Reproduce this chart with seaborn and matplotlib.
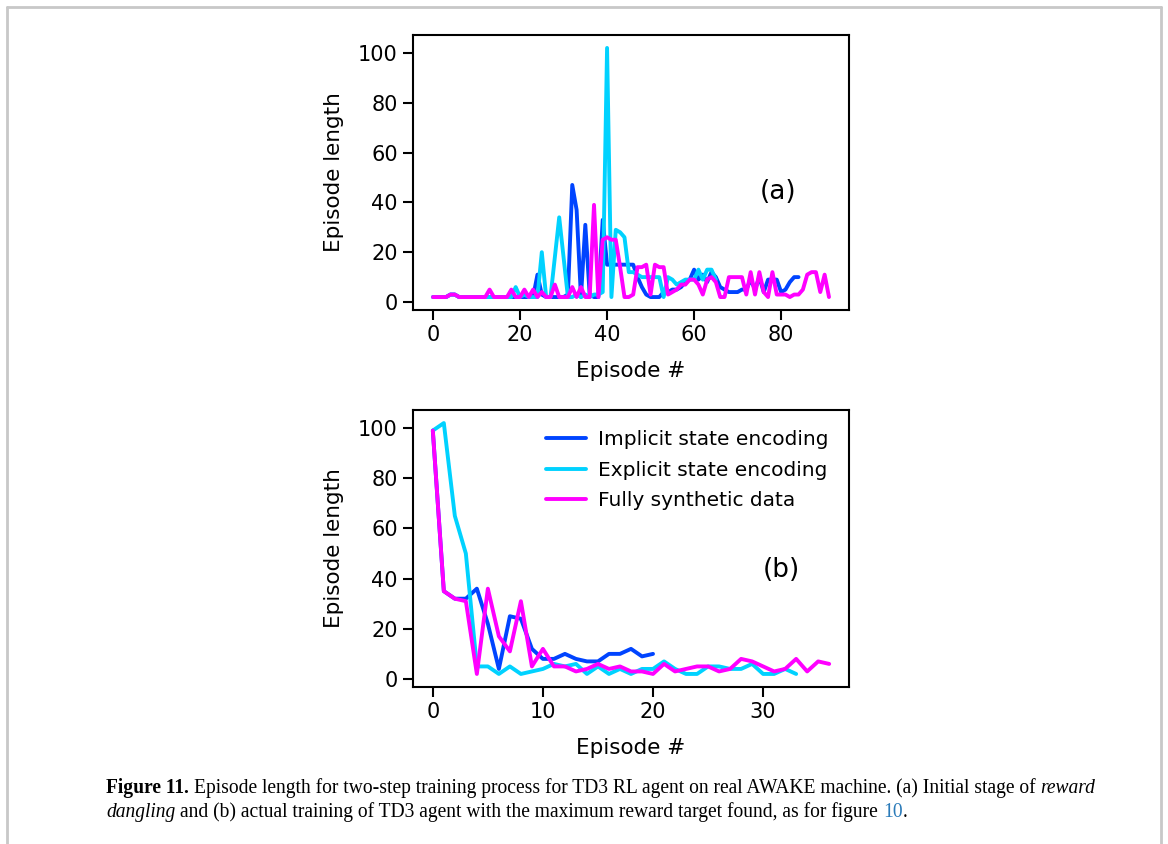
import numpy as np
import matplotlib
matplotlib.use("Agg")
import matplotlib.pyplot as plt
import seaborn as sns

# (a) reward dangling stage
implicit_a = [2, 2, 2, 2, 3, 3, 2, 2, 2, 2, 2, 2, 2, 2, 2, 2, 2, 2, 2, 2,
              2, 2, 2, 2, 11, 3, 2, 2, 2, 2, 2, 3, 47, 37, 2, 31, 3, 2, 2, 33,
              15, 15, 15, 15, 15, 15, 15, 10, 6, 3, 2, 2, 2, 4, 4, 5, 5, 6, 8, 9,
              13, 9, 11, 8, 12, 10, 6, 5, 4, 4, 4, 5, 5, 9, 5, 10, 4, 9, 9, 9,
              4, 5, 8, 10, 10]
explicit_a = [2, 2, 2, 2, 3, 3, 2, 2, 2, 2, 2, 2, 2, 2, 2, 2, 2, 2, 2, 6,
              2, 3, 2, 2, 2, 20, 2, 2, 18, 34, 18, 2, 2, 3, 2, 3, 2, 3, 3, 4,
              102, 2, 29, 28, 26, 12, 12, 11, 10, 10, 10, 10, 10, 2, 10, 9, 7, 8, 9, 9,
              9, 13, 9, 13, 13, 9]
synthetic_a = [2, 2, 2, 2, 3, 3, 2, 2, 2, 2, 2, 2, 2, 5, 2, 2, 2, 2, 5, 2,
               2, 5, 2, 5, 2, 4, 2, 2, 7, 2, 2, 2, 6, 2, 6, 2, 2, 39, 2, 25,
               26, 25, 25, 14, 2, 2, 3, 14, 14, 15, 3, 15, 14, 14, 3, 4, 5, 7, 7, 9,
               9, 7, 3, 9, 10, 8, 2, 2, 10, 10, 10, 10, 3, 12, 3, 12, 4, 2, 12, 3,
               3, 3, 2, 3, 3, 5, 11, 12, 12, 4, 11, 2]

# (b) actual training
implicit_b = [99, 35, 32, 32, 36, 22, 4, 25, 24, 12, 8, 8, 10, 8, 7, 7, 10, 10, 12, 9, 10]
explicit_b = [99, 102, 65, 50, 5, 5, 2, 5, 2, 3, 4, 6, 5, 6, 2, 5, 2, 4, 2, 4,
              4, 7, 4, 2, 2, 5, 5, 4, 4, 6, 2, 2, 4, 2]
synthetic_b = [99, 35, 32, 31, 2, 36, 17, 11, 31, 5, 12, 5, 5, 3, 4, 6, 4, 5, 3, 3,
               2, 6, 3, 4, 5, 5, 3, 4, 8, 7, 5, 3, 4, 8, 3, 7, 6]

labels = ["Implicit state encoding", "Explicit state encoding", "Fully synthetic data"]
colors = ["#0044ff", "#00d2ff", "#ff00ff"]

sns.set_theme(style="ticks")
plt.rcParams["font.family"] = ["DejaVu Sans"]
plt.rcParams.update({
    "text.color": "black", "axes.labelcolor": "black",
    "xtick.color": "black", "ytick.color": "black", "axes.edgecolor": "black",
    "axes.linewidth": 1.5, "xtick.major.width": 1.5, "ytick.major.width": 1.5,
    "xtick.major.size": 7, "ytick.major.size": 7,
    "xtick.major.pad": 4, "ytick.major.pad": 4,
})

W, H = 1168, 844
fig = plt.figure(figsize=(W / 100, H / 100), dpi=100)
fig.patch.set_facecolor("white")

ax_a = fig.add_axes([413 / W, 1 - 310 / H, 436 / W, 275 / H])
ax_b = fig.add_axes([413 / W, 1 - 687 / H, 436 / W, 277 / H])

for ax, series in [(ax_a, [implicit_a, explicit_a, synthetic_a]),
                   (ax_b, [implicit_b, explicit_b, synthetic_b])]:
    for y, lab, c in zip(series, labels, colors):
        sns.lineplot(x=np.arange(len(y)), y=y, ax=ax, color=c, linewidth=2.8, label=lab)
    ax.set_xlabel("Episode #", fontsize=15.5, labelpad=11)
    ax.set_ylabel("Episode length", fontsize=15.5, labelpad=10)
    ax.tick_params(labelsize=15)
    ax.set_yticks([0, 20, 40, 60, 80, 100])
    ax.set_ylim(-3.2, 107.2)

ax_a.set_xticks([0, 20, 40, 60, 80])
ax_a.set_xlim(-4.6, 95.6)
ax_a.get_legend().remove()
ax_a.text(0.837, 0.429, "(a)", transform=ax_a.transAxes, fontsize=19, ha="center", va="center")

ax_b.set_xticks([0, 10, 20, 30])
ax_b.set_xlim(-1.8, 37.8)
ax_b.legend(loc="upper right", frameon=False, fontsize=14.5, handlelength=2.0,
            handletextpad=0.6, labelspacing=0.57, borderaxespad=0.6)
ax_b.text(0.846, 0.422, "(b)", transform=ax_b.transAxes, fontsize=19, ha="center", va="center")

# page frame
frame = "#c8c8c8"
fig.add_artist(plt.Line2D([7 / W, 7 / W], [0, 1 - 7 / H], color=frame, lw=2))
fig.add_artist(plt.Line2D([7 / W, 1161 / W], [1 - 7 / H, 1 - 7 / H], color=frame, lw=2))
fig.add_artist(plt.Line2D([1161 / W, 1161 / W], [0, 1 - 7 / H], color=frame, lw=2))

# caption, drawn run by run
renderer = fig.canvas.get_renderer()
cap_font = ["Liberation Serif", "DejaVu Serif"]

line1 = [("Figure 11.", dict(weight="bold"), True),
         ("Episode length for two-step training process for TD3 RL agent on real AWAKE machine. (a) Initial stage of", {}, True),
         ("reward", dict(style="italic"), False)]
line2 = [("dangling", dict(style="italic"), True),
         ("and (b) actual training of TD3 agent with the maximum reward target found, as for figure", {}, True),
         ("10", dict(color="#2b7bb9"), False),
         (".", {}, False)]


def width(txt, size, **kw):
    t = fig.text(0, 0, txt, fontsize=size, family=cap_font, **kw)
    w = t.get_window_extent(renderer).width
    t.remove()
    return w


def line_width(runs, size):
    sp = width("x x", size) - width("xx", size)
    return sum(width(t, size, **kw) + (sp if gap else 0) for t, kw, gap in runs[:-1]) + \
        width(runs[-1][0], size, **runs[-1][1])


cap_size = 10 * 990 / line_width(line1, 10)


def draw_line(runs, x0, y0):
    sp = width("x x", cap_size) - width("xx", cap_size)
    x = x0
    for txt, kw, gap in runs:
        t = fig.text(x / W, 1 - y0 / H, txt, fontsize=cap_size, family=cap_font,
                     va="baseline", ha="left", **kw)
        x += t.get_window_extent(renderer).width + (sp if gap else 0)


draw_line(line1, 106, 793)
draw_line(line2, 106, 817)

fig.savefig("out.png", dpi=100)
